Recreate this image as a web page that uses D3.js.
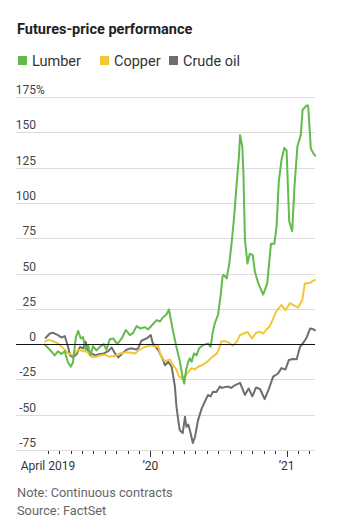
<!DOCTYPE html>
<html>
<head>
<meta charset="utf-8">
<script src="https://cdn.jsdelivr.net/npm/d3@7"></script>
<style>
  body { margin: 0; background: #fff; }
  svg { display: block; font-family: Roboto, "Noto Sans", sans-serif; }
</style>
</head>
<body>
<div class="content"></div>
<script>
const w = 342;
const h = 532;

const lumberColor = '#62bb4b';
const copperColor = '#f1c736';
const crudeColor = '#6e6e6e';

const seriesNames = ['Lumber', 'Copper', 'Crude oil'];
const yTicks = [175, 150, 125, 100, 75, 50, 25, 0, -25, -50, -75];
const xLabels = [['2019-04-01', 'April 2019'], ['2020-01-01', '\u201920'], ['2021-01-01', '\u201921']];

const lumber = [
	['2019-03-22', 0], ['2019-04-06', -4], ['2019-04-19', -8], ['2019-04-28', -5], ['2019-05-07', -7],
	['2019-05-16', -5], ['2019-05-24', -12.5], ['2019-06-01', -16], ['2019-06-07', -13], ['2019-06-15', 5],
	['2019-06-21', 9.4], ['2019-06-28', 4], ['2019-07-04', 5], ['2019-07-11', -4], ['2019-07-18', -1],
	['2019-07-24', -8], ['2019-07-31', -1.4], ['2019-08-09', -4.5], ['2019-08-18', -2], ['2019-08-29', 0],
	['2019-09-05', -4], ['2019-09-14', 3.5], ['2019-09-23', 4], ['2019-10-04', 0], ['2019-10-16', 4],
	['2019-10-27', 10], ['2019-11-07', 6.4], ['2019-11-16', 8], ['2019-11-25', 12.7], ['2019-12-06', 11],
	['2019-12-17', 12], ['2019-12-26', 10.4], ['2020-01-04', 13], ['2020-01-18', 17], ['2020-01-27', 16],
	['2020-02-04', 19], ['2020-02-13', 21], ['2020-02-20', 24.5], ['2020-03-02', 9], ['2020-03-11', -2],
	['2020-03-20', -12], ['2020-03-28', -24], ['2020-04-01', -28], ['2020-04-06', -18], ['2020-04-12', -12.5],
	['2020-04-16', -10], ['2020-04-21', -12.5], ['2020-04-27', -6.6], ['2020-05-04', -8], ['2020-05-11', -3],
	['2020-05-22', -0.7], ['2020-06-04', 0.5], ['2020-06-11', -2], ['2020-06-16', 7.5], ['2020-06-22', 14.6],
	['2020-07-01', 21], ['2020-07-08', 35], ['2020-07-13', 48], ['2020-07-16', 49], ['2020-07-24', 46.5],
	['2020-07-31', 57], ['2020-08-06', 71], ['2020-08-13', 90], ['2020-08-20', 114], ['2020-08-26', 133],
	['2020-08-29', 148], ['2020-09-04', 140], ['2020-09-07', 121], ['2020-09-11', 74], ['2020-09-18', 57],
	['2020-09-24', 64], ['2020-10-02', 63], ['2020-10-08', 51], ['2020-10-17', 43], ['2020-10-30', 35],
	['2020-11-10', 43], ['2020-11-20', 71], ['2020-11-29', 71], ['2020-12-05', 83], ['2020-12-11', 115],
	['2020-12-18', 130], ['2020-12-26', 139], ['2021-01-01', 137], ['2021-01-08', 87], ['2021-01-16', 80],
	['2021-01-22', 111], ['2021-01-30', 140], ['2021-02-08', 148], ['2021-02-13', 166], ['2021-02-24', 169],
	['2021-02-28', 169], ['2021-03-07', 138.6], ['2021-03-14', 135], ['2021-03-20', 133]
];

const copper = [
	['2019-03-22', 1.6], ['2019-04-02', 3], ['2019-04-15', 2], ['2019-04-28', 0.5], ['2019-05-12', -3],
	['2019-05-25', -6.6], ['2019-06-08', -8], ['2019-06-21', -4], ['2019-07-04', -5], ['2019-07-15', -5.4],
	['2019-07-27', -9], ['2019-08-09', -9], ['2019-08-18', -8], ['2019-09-01', -7.5], ['2019-09-14', -9],
	['2019-09-28', -8.5], ['2019-10-11', -6.6], ['2019-10-24', -6], ['2019-11-07', -6], ['2019-11-21', -6.6],
	['2019-11-29', -4.7], ['2019-12-13', -2.4], ['2019-12-26', -1.4], ['2020-01-04', -0.7], ['2020-01-13', -2],
	['2020-01-22', -1.4], ['2020-01-29', -8], ['2020-02-09', -12], ['2020-02-23', -11], ['2020-03-02', -15],
	['2020-03-11', -18], ['2020-03-18', -23], ['2020-03-25', -24], ['2020-04-03', -23], ['2020-04-12', -19.6],
	['2020-04-21', -17], ['2020-04-30', -18], ['2020-05-08', -16], ['2020-05-18', -15], ['2020-05-31', -13],
	['2020-06-14', -9.4], ['2020-06-28', -6.6], ['2020-07-06', -1.5], ['2020-07-10', 2], ['2020-07-22', 2],
	['2020-08-02', 0.5], ['2020-08-09', -1.2], ['2020-08-20', 1.6], ['2020-08-29', 6.4], ['2020-09-07', 7.5],
	['2020-09-18', 8.7], ['2020-09-30', 4], ['2020-10-11', 8], ['2020-10-22', 8.7], ['2020-10-30', 7.5],
	['2020-11-08', 10.4], ['2020-11-17', 12.7], ['2020-11-26', 18], ['2020-12-05', 23.6], ['2020-12-18', 27.6],
	['2020-12-29', 24], ['2021-01-10', 29], ['2021-01-23', 27], ['2021-02-01', 26], ['2021-02-12', 31],
	['2021-02-19', 43], ['2021-03-05', 43.4], ['2021-03-14', 45], ['2021-03-20', 45.5]
];

const crude = [
	['2019-03-24', 4], ['2019-04-06', 7.5], ['2019-04-15', 8], ['2019-04-28', 6.4], ['2019-05-07', 4.7],
	['2019-05-16', 5.7], ['2019-05-25', -2], ['2019-05-30', -8], ['2019-06-08', -9.4], ['2019-06-17', -7],
	['2019-06-26', -2], ['2019-07-04', -3], ['2019-07-11', 1.6], ['2019-07-18', -5.4], ['2019-07-27', -6.6],
	['2019-08-05', -8], ['2019-08-18', -7], ['2019-08-29', -6.6], ['2019-09-10', -5], ['2019-09-19', -2.4],
	['2019-09-28', -6.6], ['2019-10-07', -9.4], ['2019-10-16', -7], ['2019-10-29', -4], ['2019-11-09', -3],
	['2019-11-24', -3.8], ['2019-11-29', -3], ['2019-12-08', 2.4], ['2019-12-22', 4], ['2020-01-02', 6.4],
	['2020-01-07', 1], ['2020-01-13', -1.4], ['2020-01-22', -4], ['2020-01-31', -9], ['2020-02-04', -11],
	['2020-02-09', -15], ['2020-02-18', -12.5], ['2020-02-27', -16], ['2020-03-07', -30], ['2020-03-11', -44],
	['2020-03-16', -54], ['2020-03-20', -61], ['2020-03-28', -63], ['2020-04-03', -51.5], ['2020-04-07', -58.6],
	['2020-04-12', -57], ['2020-04-18', -63], ['2020-04-24', -70], ['2020-04-30', -65.6], ['2020-05-08', -54],
	['2020-05-18', -45.5], ['2020-05-26', -41], ['2020-06-04', -36], ['2020-06-11', -37], ['2020-06-17', -33.8],
	['2020-06-26', -34], ['2020-07-06', -30], ['2020-07-11', -31], ['2020-07-27', -30], ['2020-08-05', -31],
	['2020-08-16', -29], ['2020-08-29', -27.4], ['2020-09-11', -36], ['2020-09-21', -31.4], ['2020-10-01', -37],
	['2020-10-11', -30.7], ['2020-10-22', -32], ['2020-11-03', -39], ['2020-11-13', -32.6], ['2020-11-26', -23],
	['2020-12-09', -20.8], ['2020-12-18', -17], ['2020-12-29', -18], ['2021-01-07', -11.3], ['2021-01-18', -10.5],
	['2021-01-28', -10.8], ['2021-02-06', -2], ['2021-02-15', 1], ['2021-02-24', 4.7], ['2021-03-05', 11],
	['2021-03-14', 10.5], ['2021-03-20', 9.4]
];

const parse = d3.timeParse('%Y-%m-%d');

const left = 16;
const right = 315;

const svg = d3.select('.content').append('svg')
	.attr('width', w)
	.attr('height', h);

svg.append('text')
	.attr('x', 17)
	.attr('y', 34)
	.attr('font-size', 14.5)
	.attr('font-weight', 'bold')
	.attr('fill', '#222')
	.text('Futures-price performance');

// legend
const legendColors = [lumberColor, copperColor, crudeColor];
const legendX = [18, 100, 169];
const legend = svg.append('g');
seriesNames.forEach((name, i) => {
	legend.append('rect')
		.attr('x', legendX[i])
		.attr('y', 56)
		.attr('width', 9)
		.attr('height', 9)
		.attr('fill', legendColors[i]);
	legend.append('text')
		.attr('x', legendX[i] + 14)
		.attr('y', 66)
		.attr('font-size', 14.5)
		.attr('fill', '#333')
		.text(name);
});

const x = d3.scaleTime()
	.domain([parse('2019-04-01'), parse('2021-01-01')])
	.range([48, 286.6]);

const y = d3.scaleLinear()
	.domain([-75, 175])
	.range([450, 97]);

// grid
svg.append('g')
	.selectAll('line')
	.data(yTicks.filter((d) => d !== 0))
	.enter()
	.append('line')
	.attr('x1', left)
	.attr('x2', right)
	.attr('y1', (d) => Math.round(y(d)) + 0.5)
	.attr('y2', (d) => Math.round(y(d)) + 0.5)
	.attr('stroke', '#dcdcdc');

// y labels
const yLab = svg.append('g')
	.attr('font-size', 12)
	.attr('fill', '#444');
yLab.selectAll('text')
	.data(yTicks)
	.enter()
	.append('text')
	.attr('x', 36)
	.attr('y', (d) => y(d) - 3)
	.attr('text-anchor', 'end')
	.text((d) => d);
yLab.append('text')
	.attr('x', 36)
	.attr('y', y(175) - 3)
	.text('%');

// x axis
const months = d3.timeMonth.range(parse('2019-04-01'), parse('2021-03-02'));
svg.append('g')
	.selectAll('line')
	.data(months)
	.enter()
	.append('line')
	.attr('x1', (d) => Math.round(x(d)) + 0.5)
	.attr('x2', (d) => Math.round(x(d)) + 0.5)
	.attr('y1', 451)
	.attr('y2', (d) => d.getMonth() === 0 ? 457 : 454)
	.attr('stroke', '#333');

svg.append('g')
	.attr('font-size', 12)
	.attr('fill', '#333')
	.selectAll('text')
	.data(xLabels)
	.enter()
	.append('text')
	.attr('x', (d) => x(parse(d[0])))
	.attr('y', 470)
	.attr('text-anchor', 'middle')
	.text((d) => d[1]);

// lines
const line = d3.line()
	.x((d) => x(parse(d[0])))
	.y((d) => y(d[1]));

[[crude, crudeColor], [copper, copperColor], [lumber, lumberColor]].forEach(([data, color]) => {
	svg.append('path')
		.datum(data)
		.attr('d', line)
		.attr('fill', 'none')
		.attr('stroke', color)
		.attr('stroke-width', 2)
		.attr('stroke-linejoin', 'round');
});

// zero line
svg.append('line')
	.attr('x1', left)
	.attr('x2', right)
	.attr('y1', Math.round(y(0)) + 0.5)
	.attr('y2', Math.round(y(0)) + 0.5)
	.attr('stroke', '#111');

// notes
svg.append('g')
	.attr('font-size', 12.8)
	.attr('fill', '#666')
	.selectAll('text')
	.data(['Note: Continuous contracts', 'Source: FactSet'])
	.enter()
	.append('text')
	.attr('x', 17)
	.attr('y', (d, i) => 497 + i * 18)
	.text((d) => d);
</script>
</body>
</html>
